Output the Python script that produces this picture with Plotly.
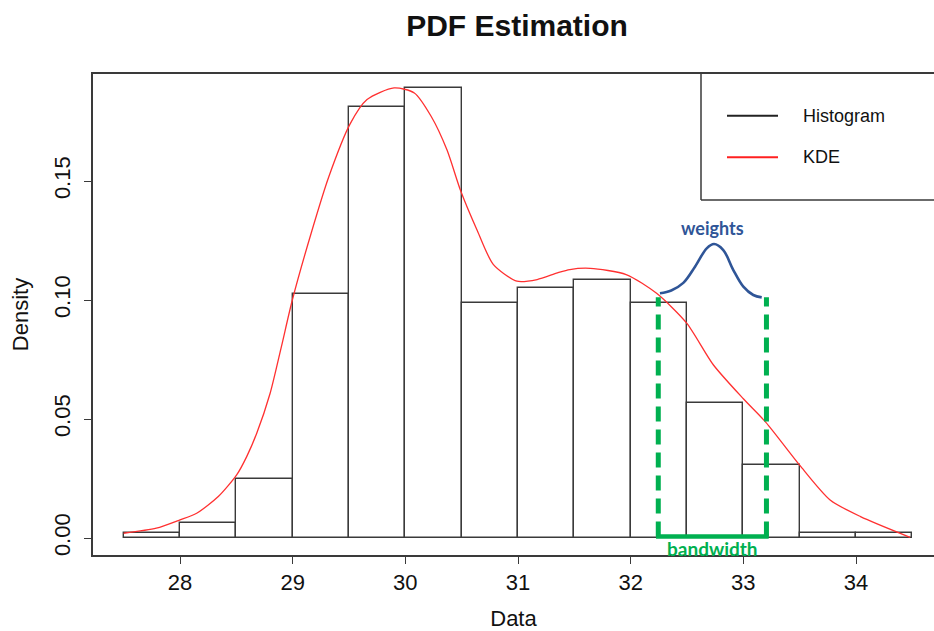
import plotly.graph_objects as go

# ---------------- data ----------------
bin_edges = [27.5, 28.0, 28.5, 29.0, 29.5, 30.0, 30.5, 31.0, 31.5, 32.0, 32.5, 33.0, 33.5, 34.0, 34.5]
hist_density = [0.0023, 0.0062, 0.0246, 0.1027, 0.1809, 0.1890, 0.0987, 0.1050,
                0.1085, 0.0987, 0.0566, 0.0306, 0.0022, 0.0022]

kde_x = [27.5, 27.79, 28.0, 28.148, 28.34, 28.503, 28.592, 28.681, 28.8, 28.9, 28.997,
         29.17, 29.32, 29.51, 29.66, 29.9, 30.08, 30.23, 30.37, 30.49, 30.64, 30.78,
         30.99, 31.17, 31.35, 31.46, 31.64, 31.96, 32.23, 32.497, 32.733, 33.0,
         33.2, 33.5, 33.77, 34.04, 34.48]
kde_y = [0.0020, 0.0041, 0.0076, 0.0104, 0.0174, 0.0265, 0.0342, 0.0440, 0.0608, 0.0804,
         0.1000, 0.1290, 0.1517, 0.1740, 0.1842, 0.1891, 0.1870, 0.1771, 0.1630,
         0.1460, 0.1290, 0.1150, 0.1079, 0.1086, 0.1114, 0.1128, 0.1133, 0.1107, 0.1028,
         0.0903, 0.0728, 0.0585, 0.0486, 0.0306, 0.0160, 0.0090, 0.0003]

weights_x = [32.26, 32.36, 32.467, 32.571, 32.675, 32.74, 32.822, 32.911, 33.0, 33.088, 33.163]
weights_y = [0.1028, 0.1040, 0.1072, 0.1140, 0.1217, 0.1235, 0.1210, 0.1126, 0.1056, 0.1021, 0.1011]

bandwidth_lo, bandwidth_hi = 32.245, 33.205
bandwidth_top = 0.1012

x_ticks = [28, 29, 30, 31, 32, 33, 34]
y_ticks = [0.0, 0.05, 0.10, 0.15]
y_tick_labels = ["0.00", "0.05", "0.10", "0.15"]

legend_labels = ["Histogram", "KDE"]
legend_colors = ["#222222", "#FF2020"]

# ---------------- figure ----------------
centers = [(bin_edges[i] + bin_edges[i + 1]) / 2 for i in range(len(hist_density))]
widths = [bin_edges[i + 1] - bin_edges[i] for i in range(len(hist_density))]

AX = "Liberation Sans, Arial, sans-serif"
CAL = "Lato, Carlito, sans-serif"

fig = go.Figure()
fig.add_trace(go.Bar(x=centers, y=hist_density, width=widths,
                     marker=dict(color="rgba(255,255,255,0)",
                                 line=dict(color="#3a3a3a", width=1.4)),
                     showlegend=False, hoverinfo="skip"))
fig.add_trace(go.Scatter(x=kde_x, y=kde_y, mode="lines",
                         line=dict(color="#FF3030", width=1.3, shape="spline", smoothing=0.7),
                         showlegend=False, hoverinfo="skip"))
fig.add_trace(go.Scatter(x=weights_x, y=weights_y, mode="lines",
                         line=dict(color="#2F5597", width=2.6, shape="spline", smoothing=1.0),
                         showlegend=False, hoverinfo="skip"))

GREEN = "#00B050"
shapes = [
    dict(type="line", xref="x", yref="y", x0=bandwidth_lo, x1=bandwidth_lo, y0=0.0006, y1=bandwidth_top,
         line=dict(color=GREEN, width=5, dash="15px,8px")),
    dict(type="line", xref="x", yref="y", x0=bandwidth_hi, x1=bandwidth_hi, y0=0.0006, y1=bandwidth_top,
         line=dict(color=GREEN, width=5, dash="15px,8px")),
    dict(type="line", xref="x", yref="y", x0=bandwidth_lo - 0.02, x1=bandwidth_hi + 0.02, y0=0.0006, y1=0.0006,
         line=dict(color=GREEN, width=4.5)),
]

# plot area in pixels
L, R, T, B = 93, 934, 74, 555
W, H = R - L, B - T


def px(xp):
    return (xp - L) / W


def py(yp):
    return (B - yp) / H


# legend box (left and bottom edges; right edge is off-canvas)
shapes.append(dict(type="line", xref="paper", yref="paper", x0=px(701), x1=px(701), y0=py(200), y1=1,
                   line=dict(color="#3a3a3a", width=1.5)))
shapes.append(dict(type="line", xref="paper", yref="paper", x0=px(701), x1=1.01, y0=py(200), y1=py(200),
                   line=dict(color="#3a3a3a", width=1.5)))
leg_y = [115.7, 157.3]
annotations = []
for lab, col, yy in zip(legend_labels, legend_colors, leg_y):
    shapes.append(dict(type="line", xref="paper", yref="paper", x0=px(727), x1=px(778), y0=py(yy), y1=py(yy),
                       line=dict(color=col, width=2)))
    annotations.append(dict(xref="paper", yref="paper", x=px(801), y=py(yy), text=lab, showarrow=False,
                            xanchor="left", yanchor="middle", font=dict(family=AX, size=18, color="#111")))

annotations.append(dict(xref="x", yref="y", x=32.73, y=0.1303, text="<b>weights</b>", showarrow=False,
                        xanchor="center", yanchor="middle", font=dict(family=CAL, size=18, color="#2F5597")))
annotations.append(dict(xref="x", yref="y", x=32.73, y=-0.0042, text="<b>bandwidth</b>", showarrow=False,
                        xanchor="center", yanchor="middle", font=dict(family=CAL, size=19, color=GREEN)))

x_per_px = 1 / 112.67
y_per_px = 0.1 / 238.0
xr = [28 + (L - 180) * x_per_px, 28 + (R - 180) * x_per_px]
yr = [-(B - 538) * y_per_px, (538 - T) * y_per_px]

fig.update_layout(
    width=934, height=631,
    margin=dict(l=L, r=934 - R, t=T, b=631 - B, pad=0),
    paper_bgcolor="white", plot_bgcolor="white",
    title=dict(text="<b>PDF Estimation</b>", x=517 / 934, xanchor="center", xref="container",
               y=1 - 25 / 631, yanchor="middle", yref="container",
               font=dict(family=AX, size=30, color="#111")),
    shapes=shapes, annotations=annotations,
    bargap=0, showlegend=False,
    font=dict(family=AX, size=22, color="#111"),
)
fig.update_xaxes(range=xr, tickvals=x_ticks, ticktext=[str(t) for t in x_ticks],
                 ticks="outside", ticklen=7, tickwidth=1.4, tickcolor="#3a3a3a",
                 showline=True, linecolor="#3a3a3a", linewidth=1.5, mirror=True,
                 showgrid=False, zeroline=False, automargin=False,
                 tickfont=dict(family=AX, size=22, color="#111"),
                 title=dict(text="Data", font=dict(family=AX, size=22, color="#111"), standoff=23))
fig.update_yaxes(range=yr, tickvals=y_ticks, ticktext=y_tick_labels, tickangle=-90,
                 ticks="outside", ticklen=7, tickwidth=1.4, tickcolor="#3a3a3a",
                 showline=True, linecolor="#3a3a3a", linewidth=1.5, mirror=False,
                 showgrid=False, zeroline=False, ticklabelstandoff=5, automargin=False,
                 tickfont=dict(family=AX, size=22, color="#111"),
                 title=dict(text="Density", font=dict(family=AX, size=22, color="#111"), standoff=16))

fig.write_html("out.html")
